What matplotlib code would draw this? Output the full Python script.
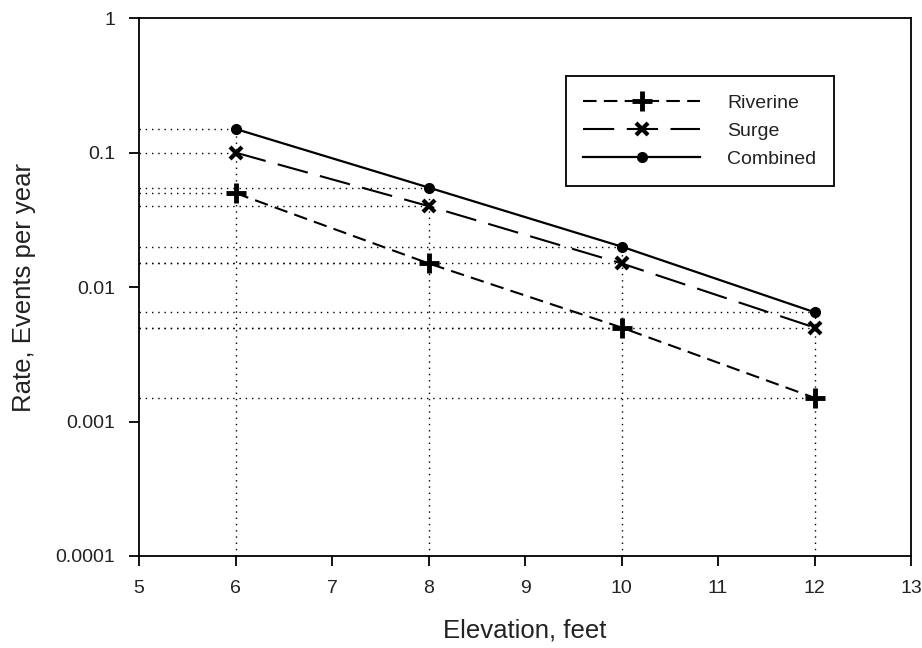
import numpy as np
import matplotlib.pyplot as plt
from matplotlib.ticker import FixedLocator, FixedFormatter, NullLocator

plt.rcParams['font.family'] = ['Liberation Sans', 'DejaVu Sans']

elevation = [6, 8, 10, 12]
riverine = [0.05, 0.015, 0.005, 0.0015]
surge = [0.1, 0.04, 0.015, 0.005]
combined = [0.15, 0.055, 0.02, 0.0065]

fig = plt.figure(figsize=(9.22, 6.48), dpi=100)
ax = fig.add_axes([0.1508, 0.142, 0.8373, 0.830])

ax.set_yscale('log')
ax.set_xlim(5, 13)
ax.set_ylim(0.0001, 1)

# dotted guide lines from the axes to every point
dots = (0, (1, 3.5))
for series in (riverine, surge, combined):
    for xv, yv in zip(elevation, series):
        ax.plot([5, xv], [yv, yv], color='black', linestyle=dots, lw=1.0, zorder=1)
for i, xv in enumerate(elevation):
    top = max(riverine[i], surge[i], combined[i])
    ax.plot([xv, xv], [0.0001, top], color='black', linestyle=dots, lw=1.0, zorder=1)

ax.plot(elevation, riverine, color='black', linestyle=(0, (6.5, 3.5)), lw=1.5,
        marker='+', markersize=15, markeredgewidth=3.5, label='Riverine', zorder=3)
ax.plot(elevation, surge, color='black', linestyle=(0, (15, 6)), lw=1.5,
        marker='x', markersize=9, markeredgewidth=3, label='Surge', zorder=3)
ax.plot(elevation, combined, color='black', linestyle='-', lw=1.6,
        marker='o', markersize=7, label='Combined', zorder=3)

ax.yaxis.set_major_locator(FixedLocator([0.0001, 0.001, 0.01, 0.1, 1]))
ax.yaxis.set_major_formatter(FixedFormatter(['0.0001', '0.001', '0.01', '0.1', '1']))
ax.yaxis.set_minor_locator(NullLocator())
ax.set_xticks(range(5, 14))

ax.tick_params(direction='out', length=7, width=1.3, labelsize=14,
               color='black', labelcolor='#222222')
ax.tick_params(axis='x', pad=10)
ax.tick_params(axis='y', pad=10)
for s in ax.spines.values():
    s.set_linewidth(1.3)

ax.set_xlabel('Elevation, feet', fontsize=18.5, labelpad=16, color='#222222')
ax.set_ylabel('Rate, Events per year', fontsize=18.5, labelpad=14, color='#222222')

leg = fig.legend(loc='upper left', bbox_to_anchor=(0.603, 0.897), fontsize=14,
                 frameon=True, fancybox=False, edgecolor='black', framealpha=1,
                 handlelength=6.0, borderpad=0.9, labelspacing=0.55, handletextpad=1.4)
leg.get_frame().set_linewidth(1.3)
for t in leg.get_texts():
    t.set_color('#222222')

fig.savefig('out.png', dpi=100)
